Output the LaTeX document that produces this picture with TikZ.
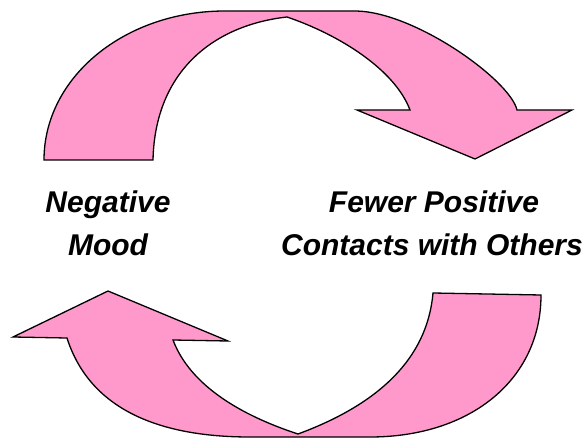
\documentclass[tikz,border=0pt]{standalone}
\usepackage{fontspec}
\setmainfont{Liberation Sans}
\definecolor{arrowpink}{RGB}{255,153,204}
\begin{document}
\begin{tikzpicture}[x=1pt,y=-1pt,
  bigarrow/.style={fill=arrowpink,draw=black,line width=1.3pt,line join=miter},
  label/.style={font=\fontsize{30}{36}\selectfont\bfseries\itshape,inner sep=0pt,anchor=base}]
\useasboundingbox (0,0) rectangle (588,438);
% top arrow
\draw[bigarrow] (44,160) .. controls (44,77) and (125,11) .. (225,11)
  -- (356,11) .. controls (415,12) and (510,80) .. (517,110)
  -- (572,110) -- (475,159) -- (357,110) -- (410,110)
  .. controls (395,70) and (340,35) .. (287,17)
  .. controls (215,25) and (155,70) .. (153,160) -- cycle;
% bottom arrow
\draw[bigarrow] (541,295) -- (433,293)
  .. controls (428,350) and (390,400) .. (298,434)
  .. controls (240,415) and (190,385) .. (173,340)
  -- (228,341) -- (108,291) -- (13,337) -- (67,338)
  .. controls (90,410) and (160,437) .. (250,437) -- (370,437)
  .. controls (470,437) and (541,380) .. (541,295) -- cycle;
% labels
\node[label] (neg1) at (108,212) {Negative};
\node[label] (neg2) at (108,255) {Mood};
\node[label] (few1) at (434,213) {Fewer Positive};
\node[label] (few2) at (432,255) {Contacts with Others};
\end{tikzpicture}
\end{document}
